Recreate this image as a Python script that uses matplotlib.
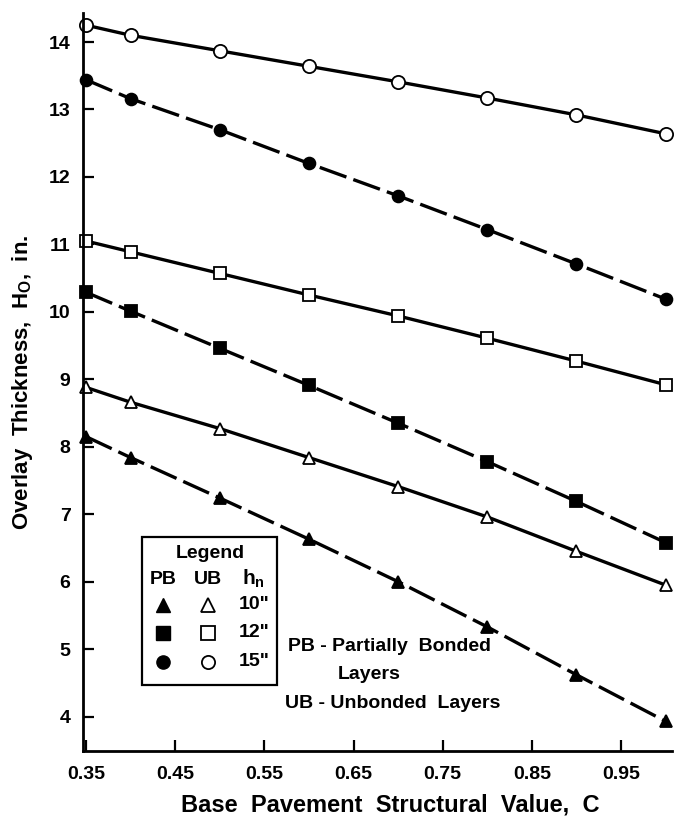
import matplotlib
matplotlib.use('Agg')
import matplotlib.pyplot as plt
from matplotlib.patches import Rectangle

plt.rcParams['font.family'] = ['Liberation Sans', 'DejaVu Sans']
plt.rcParams['font.weight'] = 'bold'
plt.rcParams['mathtext.fontset'] = 'custom'
plt.rcParams['mathtext.rm'] = 'Liberation Sans:bold'

# base pavement structural value, C
c_values = [0.35, 0.4, 0.5, 0.6, 0.7, 0.8, 0.9, 1.0]

# overlay thickness, unbonded (UB) and partially bonded (PB)
ub_15 = [14.25, 14.10, 13.87, 13.64, 13.41, 13.17, 12.92, 12.64]
pb_15 = [13.44, 13.16, 12.70, 12.20, 11.72, 11.22, 10.71, 10.19]
ub_12 = [11.05, 10.89, 10.57, 10.25, 9.94, 9.61, 9.27, 8.92]
pb_12 = [10.29, 10.01, 9.46, 8.91, 8.35, 7.78, 7.19, 6.58]
ub_10 = [8.88, 8.66, 8.27, 7.84, 7.41, 6.96, 6.45, 5.95]
pb_10 = [8.15, 7.84, 7.24, 6.63, 6.00, 5.33, 4.62, 3.93]

x_ticks = [0.35, 0.45, 0.55, 0.65, 0.75, 0.85, 0.95]
y_ticks = [4, 5, 6, 7, 8, 9, 10, 11, 12, 13, 14]

fig = plt.figure(figsize=(6.76, 8.24), dpi=100)
ax = fig.add_axes([0.1228, 0.0886, 0.871, 0.8956])

dash = (8.5, 2.2)
series = [
    (ub_15, 'o', 'white', 'solid', 9.5),
    (pb_15, 'o', 'black', 'dashed', 8.5),
    (ub_12, 's', 'white', 'solid', 9),
    (pb_12, 's', 'black', 'dashed', 9),
    (ub_10, '^', 'white', 'solid', 8.5),
    (pb_10, '^', 'black', 'dashed', 8.5),
]
for vals, mk, fc, ls, ms in series:
    line, = ax.plot(c_values, vals, color='black', lw=2.4, marker=mk,
                    markerfacecolor=fc, markeredgecolor='black',
                    markeredgewidth=1.3, markersize=ms, clip_on=False)
    if ls == 'dashed':
        line.set_dashes(dash)

ax.set_xlim(0.3466, 1.007)
ax.set_ylim(3.49, 14.43)
ax.set_xticks(x_ticks)
ax.set_xticklabels(['%.2f' % t for t in x_ticks])
ax.set_yticks(y_ticks)

for side in ['top', 'right']:
    ax.spines[side].set_visible(False)
for side in ['left', 'bottom']:
    ax.spines[side].set_linewidth(2)

ax.tick_params(direction='in', length=8, width=1.6, labelsize=14, pad=9)
for lab in ax.get_xticklabels() + ax.get_yticklabels():
    lab.set_fontweight('bold')
ax.tick_params(axis='x', pad=11)

ax.set_xlabel('Base  Pavement  Structural  Value,  C', fontsize=17,
              fontweight='bold')
ax.xaxis.set_label_coords(0.521, -0.058)
ax.set_ylabel('Overlay  Thickness,  H$_\\mathregular{O}$,  in.', fontsize=16,
              fontweight='bold', labelpad=10)

# legend box
ax.add_patch(Rectangle((0.100, 0.0894), 0.229, 0.2006, transform=ax.transAxes,
                       fill=False, lw=1.6, edgecolor='black', clip_on=False))
ax.text(0.216, 0.268, 'Legend', transform=ax.transAxes, ha='center',
        va='center', fontsize=14, fontweight='bold')
cols = [0.136, 0.212, 0.290]
ax.text(cols[0], 0.233, 'PB', transform=ax.transAxes, ha='center',
        va='center', fontsize=14, fontweight='bold')
ax.text(cols[1], 0.233, 'UB', transform=ax.transAxes, ha='center',
        va='center', fontsize=14, fontweight='bold')
ax.text(cols[2], 0.233, 'h$_\\mathregular{n}$', transform=ax.transAxes,
        ha='center', va='center', fontsize=15, fontweight='bold')
rows = [(0.198, '^', '10"'), (0.160, 's', '12"'), (0.121, 'o', '15"')]
for ry, mk, lab in rows:
    ax.plot([cols[0]], [ry], marker=mk, color='black', markersize=9.5,
            transform=ax.transAxes, clip_on=False)
    ax.plot([cols[1]], [ry], marker=mk, markerfacecolor='white',
            markeredgecolor='black', markeredgewidth=1.3, markersize=9.5,
            transform=ax.transAxes, clip_on=False)
    ax.text(cols[2], ry, lab, transform=ax.transAxes, ha='center',
            va='center', fontsize=14, fontweight='bold')

ax.text(0.348, 0.142, 'PB - Partially  Bonded', transform=ax.transAxes,
        ha='left', va='center', fontsize=14, fontweight='bold')
ax.text(0.433, 0.103, 'Layers', transform=ax.transAxes,
        ha='left', va='center', fontsize=14, fontweight='bold')
ax.text(0.343, 0.065, 'UB - Unbonded  Layers', transform=ax.transAxes,
        ha='left', va='center', fontsize=14, fontweight='bold')

fig.savefig('out.png', dpi=100)
